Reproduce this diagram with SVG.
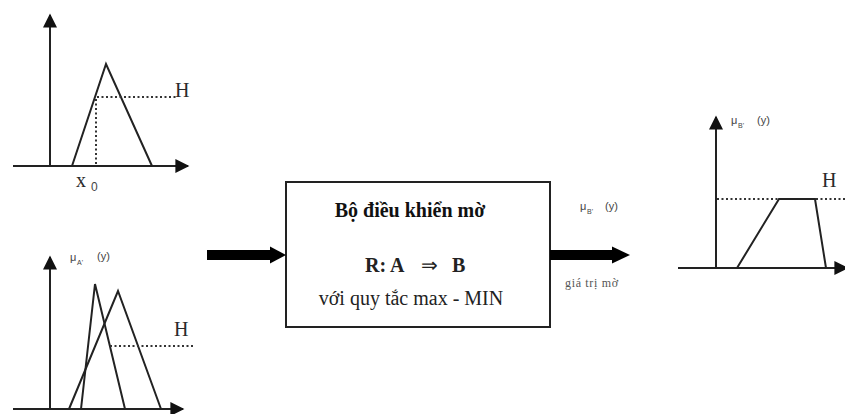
<svg xmlns="http://www.w3.org/2000/svg" width="845" height="414" viewBox="0 0 845 414">
  <defs>
    <marker id="axisHead" viewBox="0 0 10 10" refX="9" refY="5" markerWidth="9" markerHeight="7" markerUnits="strokeWidth" orient="auto">
      <path d="M0,0 L10,5 L0,10 Z" fill="#111"/>
    </marker>
  </defs>
  <style>
    .axis { stroke: #222; stroke-width: 2; fill: none; marker-end: url(#axisHead); }
    .curve { stroke: #222; stroke-width: 2; fill: none; stroke-linejoin: miter; }
    .dot { stroke: #333; stroke-width: 2; stroke-dasharray: 2 2.5; fill: none; }
    .h { font-family: "Liberation Serif", serif; font-size: 20px; fill: #2a2a2a; }
    .lbl { font-family: "Liberation Sans", sans-serif; font-size: 11px; fill: #444; }
    .sub { font-family: "Liberation Sans", sans-serif; font-size: 7px; fill: #444; }
    .title { font-family: "Liberation Serif", serif; font-size: 20px; font-weight: bold; fill: #111; }
    .rule { font-family: "Liberation Serif", serif; font-size: 20px; fill: #222; }
    .small { font-family: "Liberation Serif", serif; font-size: 12px; fill: #555; }
    .box { fill: #fff; stroke: #222; stroke-width: 2; }
    .shaft { fill: #000; }
  </style>

  <!-- crisp input x0 fuzzified by a triangular set -->
  <g id="input-singleton">
    <line class="axis" x1="50" y1="166" x2="50" y2="15"/>
    <line class="axis" x1="13" y1="166" x2="188" y2="166"/>
    <polyline class="curve" points="72,166 106,64 152,166"/>
    <line class="dot" x1="97" y1="97" x2="176" y2="97"/>
    <line class="dot" x1="96" y1="99" x2="96" y2="166"/>
    <text class="h" x="175" y="97">H</text>
    <text class="h" x="76" y="187">x</text>
    <text class="sub" x="91" y="191" style="font-size:12px">0</text>
  </g>

  <!-- input membership functions mu_A'(y) -->
  <g id="input-fuzzy">
    <line class="axis" x1="50" y1="409" x2="50" y2="257"/>
    <line class="axis" x1="13" y1="409" x2="183" y2="409"/>
    <polyline class="curve" points="81,409 95,284 125,409"/>
    <polyline class="curve" points="69,409 118,291 161,409"/>
    <line class="dot" x1="110" y1="346" x2="193" y2="346"/>
    <text class="h" x="174" y="336">H</text>
    <text class="lbl" x="70" y="261">μ</text>
    <text class="sub" x="77" y="265">A'</text>
    <text class="lbl" x="97" y="260">(y)</text>
  </g>

  <!-- fuzzy controller block -->
  <g id="controller">
    <rect class="box" x="286" y="182" width="264" height="145"/>
    <text class="title" x="410" y="217" text-anchor="middle">Bộ điều khiển mờ</text>
    <text class="rule" x="365" y="272" font-weight="bold">R: A</text>
    <text class="rule" x="421" y="272">⇒</text>
    <text class="rule" x="452" y="272" font-weight="bold">B</text>
    <text class="rule" x="411" y="305" text-anchor="middle">với quy tắc max - MIN</text>
  </g>

  <!-- output membership function mu_B'(y) -->
  <g id="output-fuzzy">
    <line class="axis" x1="716" y1="268" x2="716" y2="117"/>
    <line class="axis" x1="678" y1="268" x2="847" y2="268"/>
    <line class="dot" x1="717" y1="199" x2="845" y2="199"/>
    <polyline class="curve" points="737,268 779,199 815,199 826,268"/>
    <text class="h" x="822" y="187">H</text>
    <text class="lbl" x="731" y="124">μ</text>
    <text class="sub" x="738" y="128">B'</text>
    <text class="lbl" x="757" y="124">(y)</text>
  </g>

  <!-- signal flow -->
  <g id="connectors">
    <rect class="shaft" x="207" y="250" width="65" height="10"/>
    <polygon class="shaft" points="270,246.5 286,255 270,263.5"/>
    <rect class="shaft" x="550" y="250" width="64" height="10"/>
    <polygon class="shaft" points="612,246.5 630,255 612,263.5"/>
    <text class="lbl" x="580" y="210">μ</text>
    <text class="sub" x="587" y="214">B'</text>
    <text class="lbl" x="605" y="210">(y)</text>
    <text class="small" x="565" y="287" textLength="53" lengthAdjust="spacing">giá trị mờ</text>
  </g>
</svg>
